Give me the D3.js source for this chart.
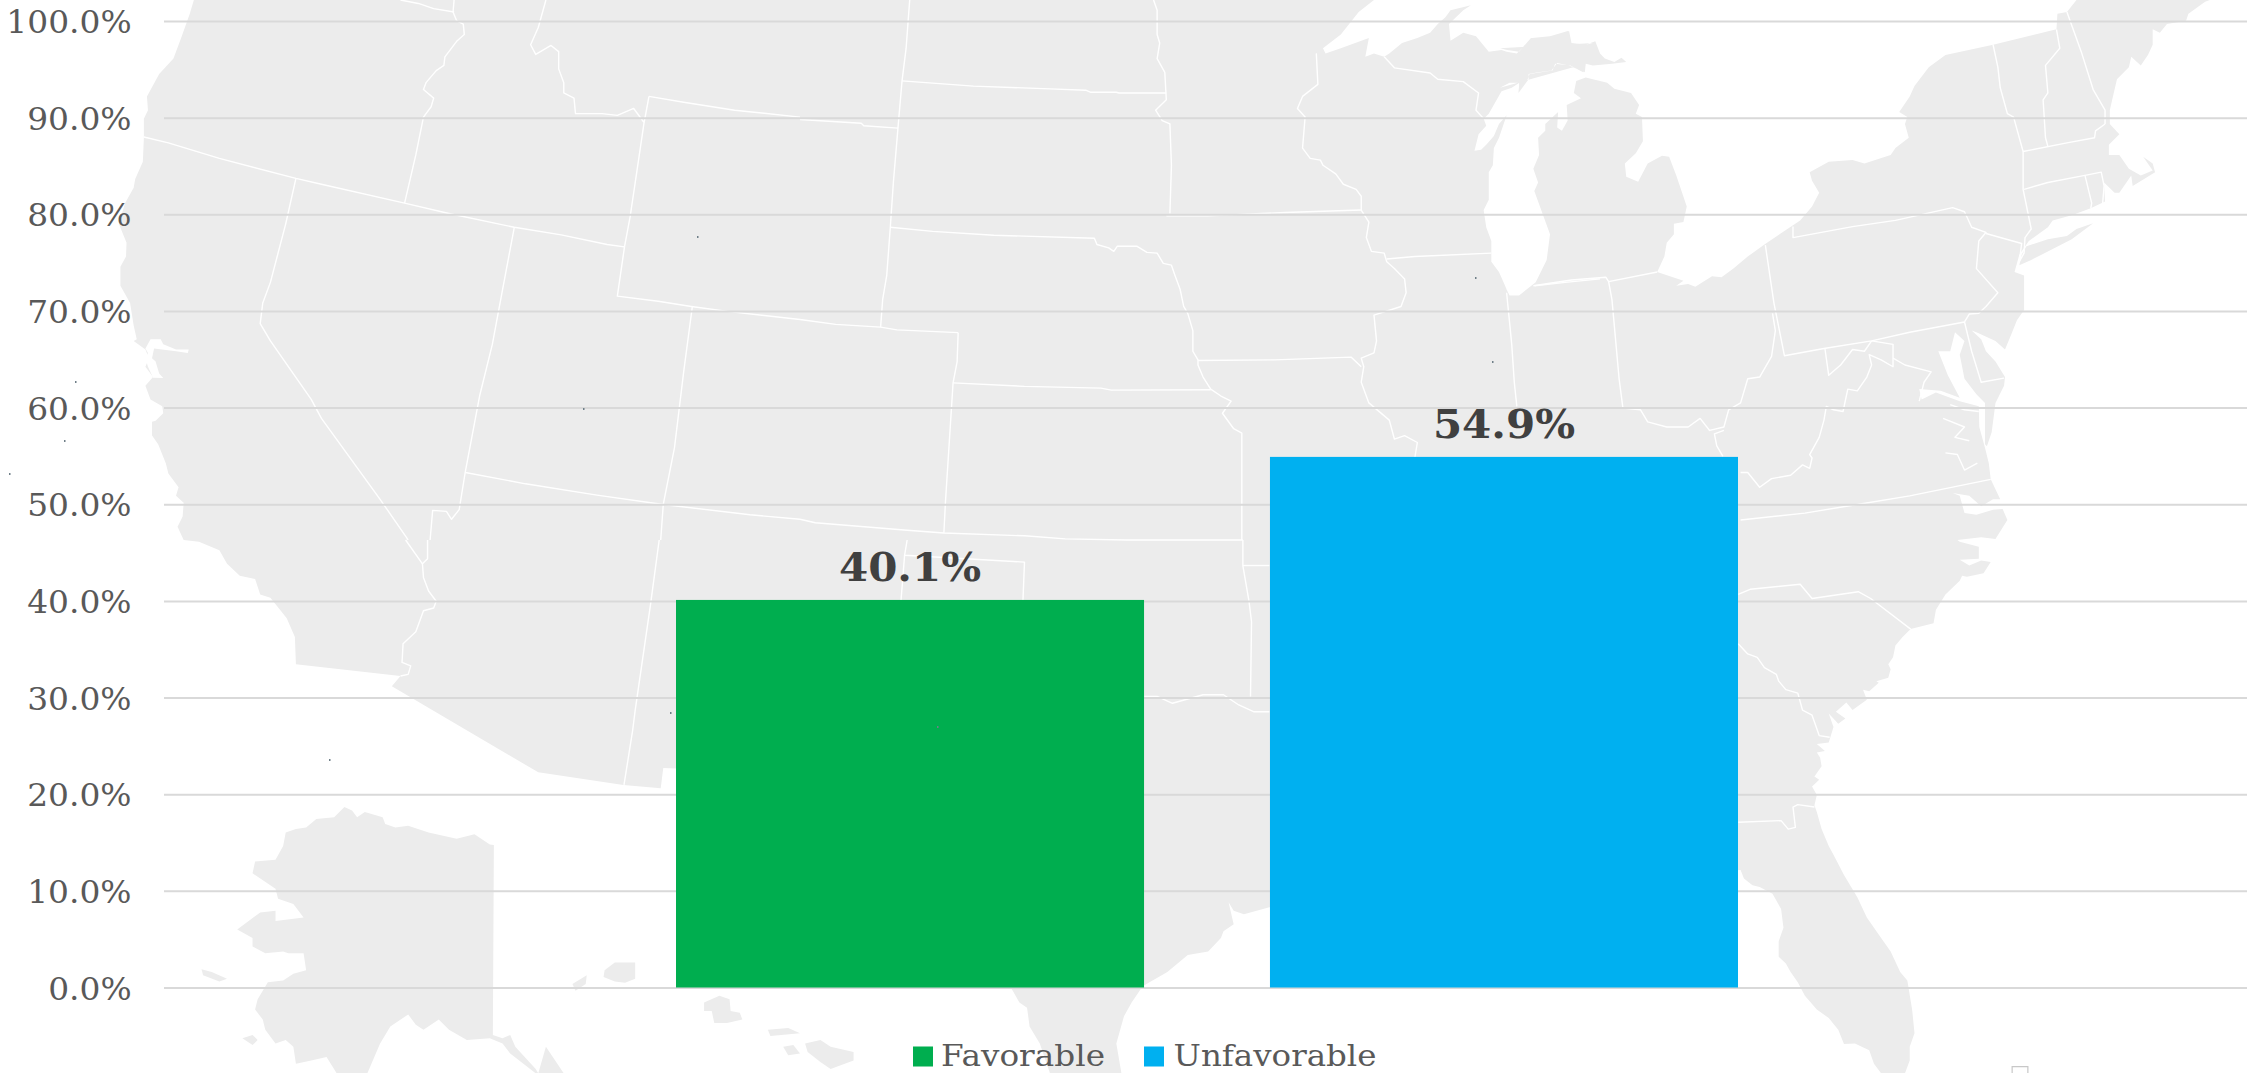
<!DOCTYPE html>
<html><head><meta charset="utf-8">
<script src="https://cdn.jsdelivr.net/npm/d3@7/dist/d3.min.js"></script>
<style>html,body{margin:0;padding:0;background:#fff}svg{display:block}</style>
</head><body><svg id="c" width="2247" height="1073"></svg>
<script>
const categories = ["Favorable", "Unfavorable"];
const seriesValues = [40.1, 54.9];
const seriesColors = ["#00AE4F", "#00B0F0"];
const tickValues = [0,10,20,30,40,50,60,70,80,90,100];

// Decorative base map, traced as [frame, "x,y x,y ..."] runs.
const frames = {
  A:[0,0,1/1.96,1/2.904], B:[800,0,1/1.96,1/2.904], C:[1500,0,1/2.099,1/2.904],
  D:[0,540,1/1.96,1/2.94], E:[800,540,1/1.96,1/2.94], F:[1500,540,1/2.099,1/2.94]
};
const mainland = [
 ["A","380,0 372,40 355,110 340,170 312,215 288,280 290,320 282,345 282,400 280,470 265,520 262,545 245,590 233,650 248,705 247,745 236,775 236,830 255,880 262,945 268,985 262,990 285,1015 292,1040 285,1065 300,1095 285,1120 295,1160 318,1180 320,1200 305,1222 298,1225 298,1265 310,1290 325,1345 330,1375 350,1415 345,1440 360,1460 358,1500 348,1530 360,1568"],
 ["D","390,5 430,30 445,70 470,105 500,115 510,160 530,170 562,230 578,285 580,365 785,400 768,430 1055,683 1222,720 1295,730 1300,670 1325,672"],
 ["E","415,1320 430,1360 445,1375 450,1430 470,1480 490,1568 630,1568 620,1480 635,1400 650,1360 668,1320 674,1310 720,1270 760,1220 800,1210 825,1170 830,1150 850,1130 840,1065 850,1090 870,1100 920,1080"],
 ["F","505,970 512,995 530,1015 545,1020 572,1040 590,1085 595,1140 585,1180 585,1225 600,1245 610,1270 625,1300 640,1340 665,1380 690,1405 710,1440 722,1482 745,1480 775,1500 785,1540 800,1568 850,1568 860,1530 860,1490 870,1450 865,1380 855,1295 840,1270 820,1210 800,1170 770,1110 750,1050 722,985 700,925 690,900 675,850 665,800 660,780 665,750 655,725 670,705 660,695 675,665 672,640 665,625 682,620 665,600 690,595 700,550 690,510 710,540 725,525 705,505 727,478 740,500 770,470 762,440 775,445 795,420 790,415 815,405 820,380 815,365 825,345 830,310 845,285 862,262 910,245 915,205 935,160 965,120 970,105 980,108 1015,98 1030,65 1010,60 985,75 965,58 1005,55 1005,20 965,5 960,0"],
 ["C","1010,1560 1040,1565 1065,1510 1055,1478 1035,1480 1000,1495 975,1490 965,1440 950,1432 985,1440 1010,1470 1035,1450 1050,1450 1030,1392 1026,1345 1018,1300 1006,1240 1005,1180 965,1165 915,1140 885,1160 880,1130 925,1135 965,1155 940,1090 920,1020 945,1020 955,965 975,990 965,1030 975,1100 1000,1145 1018,1170 1018,1290 1022,1296 1032,1255 1040,1170 1058,1120 1060,1095 1040,1050 1020,1020 1010,985 990,960 1000,965 1040,990 1060,1015 1075,965 1085,930 1100,900 1100,800 1080,790 1090,740 1110,700 1150,660 1160,640 1200,625 1240,605 1270,585 1268,530 1290,560 1300,560 1325,510 1328,540 1375,500 1370,475 1350,455 1370,495 1345,510 1320,490 1300,450 1278,450 1278,420 1300,390 1280,360 1280,320 1285,290 1295,230 1320,195 1325,165 1345,190 1360,160 1370,130 1370,85 1385,95 1400,70 1440,60 1445,40 1480,5 1490,0 1210,0 1190,35 1170,40 1168,85 1035,130 935,160 900,195 870,250 860,280 838,325 855,340 850,360 858,400 830,430 820,450 765,475 740,465 690,470 650,500 655,525 670,560 655,600 630,640 555,710 520,745 490,780 465,805 445,802 410,833 395,825 370,830 385,815 330,790 345,745 350,705 365,680 365,650 385,645 392,600 370,510 355,455 340,452 310,475 290,528 265,513 262,475 285,445 300,410 298,340 285,330 292,305 275,270 240,258 225,240 180,225 160,235 155,270 170,285 140,305 142,350 130,380 120,370 122,325 95,360 95,380 80,400 82,450 70,490 80,530 72,555 105,680 98,755 75,820 40,858 20,858 10,830"],
 ["B","1385,840 1370,790 1355,760 1355,700 1345,660 1340,610 1350,580 1350,500 1358,480 1360,430 1370,400 1385,335 1370,360 1360,395 1345,420 1335,435 1322,438 1330,390 1345,365 1340,345 1350,330 1375,265 1395,255 1410,240 1408,270 1425,235 1430,215 1475,205 1480,185 1510,190 1535,210 1540,185"],
 ["C","0,255 20,240 40,240 40,268 60,230 60,215 80,210 108,205 120,183 145,190 178,210 180,185 195,190 235,185 265,180 255,168 240,180 220,170 210,155 200,120 180,130 150,125 145,90 115,105 80,110 65,110 40,150 15,145 0,140"],
 ["B","1555,125 1540,130 1510,125 1505,90 1470,105 1435,110 1405,155 1385,150 1375,145 1350,150 1325,105 1300,95 1275,118 1272,70 1300,30 1315,15 1275,30 1265,50 1250,70 1235,95 1210,110 1180,125 1155,155 1145,165 1125,155 1108,165 1115,110 1060,140 1030,155 1025,140 1060,100 1095,35 1125,0"]
];
const otherLand = [
 [["D","675,785 690,795 700,815 715,800 750,815 755,835 775,845 800,840 840,860 895,878 930,865 960,895 968,897 966,1455 985,1465 1000,1455 1010,1490 1050,1555 1055,1568 1070,1490 1105,1568 1050,1568 1000,1510 985,1480 960,1465 915,1470 880,1440 860,1410 830,1440 815,1425 800,1395 765,1430 745,1480 720,1568 660,1568 640,1520 610,1530 580,1540 575,1490 560,1470 540,1480 520,1440 515,1410 500,1380 505,1350 525,1300 555,1295 575,1275 600,1265 595,1215 565,1215 555,1210 520,1215 495,1195 495,1170 465,1145 510,1095 540,1090 540,1120 595,1110 575,1070 545,1055 540,1025 495,980 500,945 540,940 555,900 560,860 580,850 600,845 620,820 655,815"]],
 [["D","475,1465 495,1455 505,1470 495,1485"]],
 [["D","395,1262 415,1270 445,1290 430,1298 398,1280"]],
 [["D","1122,1305 1150,1280 1148,1305 1128,1325"]],
 [["D","1185,1265 1205,1242 1245,1242 1245,1290 1225,1302 1205,1298 1183,1285"]],
 [["D","1380,1360 1410,1340 1430,1350 1432,1385 1450,1390 1455,1410 1425,1420 1400,1420 1395,1385 1380,1385"]],
 [["D","1505,1440 1545,1435 1568,1450 1510,1458"]],
 [["D","1535,1490 1555,1485 1568,1510 1545,1515"]],
 [["E","10,1480 40,1470 60,1490 105,1505 105,1530 60,1555 40,1535 15,1505"]],
 [["C","1090,770 1115,755 1200,695 1245,648 1210,665 1190,685 1150,695 1105,715 1095,740"]]
];
const waterBits = [
 [["A","285,1012 295,985 315,985 320,1000 345,1015 370,1015 368,1025 345,1020 302,1012 298,1040 305,1050 312,1085 320,1098 300,1097 290,1065 285,1040 290,1025"]]
];
const stateLines = [
 ["A","785,0 820,10 850,25 890,35"],
 ["A","890,0 888,35 895,60 908,70 910,100 895,120 872,165 870,190 855,205 835,240 830,260 850,285 845,310 830,340 815,450 793,590"],
 ["A","282,398 330,415 430,460 580,518 630,535 793,590 880,620 1008,660 1100,682 1190,710 1224,717"],
 ["A","580,518 560,650 530,820 515,880 510,940 530,990 610,1160 630,1215 745,1450 800,1568"],
 ["D","795,0 828,70"],
 ["A","1008,660 975,920 965,1000 940,1150 912,1370 900,1480 885,1508 875,1485 848,1482 843,1568"],
 ["D","838,0 838,55 828,70 830,110 840,150 855,180 850,200 830,208 815,270 790,305 788,360 805,370 800,395 785,400"],
 ["A","912,1372 1030,1405 1170,1438 1300,1465 1470,1495 1568,1508"],
 ["B","0,1508 30,1518 210,1540 282,1548 440,1556 520,1565 640,1568 868,1568"],
 ["A","1224,717 1210,860 1290,875 1355,890 1430,905 1568,928"],
 ["B","0,928 70,942 158,950 190,958 310,966"],
 ["A","1272,280 1262,360 1250,480 1235,630 1224,717"],
 ["A","1070,0 1055,80 1040,130 1050,158 1080,132 1095,150 1095,200 1105,240 1105,270 1125,285 1128,330 1180,330 1210,335 1242,315 1262,355"],
 ["A","1272,280 1340,297 1440,320 1568,340"],
 ["B","0,347 120,358 125,365 192,372"],
 ["A","1357,890 1340,1080 1322,1300 1300,1465 1295,1568"],
 ["D","1292,0 1275,190 1245,500 1240,560 1223,720"],
 ["B","215,0 208,140 200,235 192,372 183,530 177,660 170,800 162,870 158,950"],
 ["B","200,235 340,250 490,258 560,262 570,268 620,268 625,270 718,270"],
 ["B","693,0 700,30 700,100 705,125 700,170 715,210 718,290 697,320 710,350 725,360 728,480 725,620"],
 ["B","177,660 260,672 380,683 577,692 582,710 605,720 615,730 622,715 660,715 680,733 700,735 712,765 728,770 735,800 745,840 752,890 760,910 770,960 770,1020 780,1045 780,1060 790,1095 805,1130 825,1150 845,1165 828,1200 850,1245 866,1258 866,1568"],
 ["E","868,0 868,75 880,180 885,240 883,460"],
 ["E","868,75 920,75"],
 ["B","718,627 800,627 950,617 1100,610"],
 ["B","1012,155 1015,245 985,280 975,315 990,340 985,430 1000,460 1020,465 1025,480 1050,505 1065,535 1090,550 1100,570 1100,610 1115,645 1110,690 1120,730 1145,735 1150,760 1165,780 1185,810 1188,850 1178,890 1125,915 1130,990 1125,1025 1100,1040 1105,1065 1100,1110 1115,1170 1155,1220 1165,1275 1185,1265 1210,1285 1205,1330"],
 ["B","1145,165 1165,197 1235,212 1250,230 1300,237 1330,270 1325,320 1340,345"],
 ["B","1150,752 1205,745 1355,735"],
 ["B","780,1047 930,1045 1080,1037 1100,1065"],
 ["B","300,1112 440,1122 590,1127 610,1133 805,1132"],
 ["B","310,966 308,1050 300,1112 285,1460 282,1548"],
 ["B","1385,850 1395,1000 1400,1110 1405,1180"],
 ["B","1440,830 1500,820 1568,810"],
 ["C","70,830 150,813 222,805 228,818 330,790"],
 ["C","228,818 235,870 250,1100 258,1185 295,1190 310,1225 350,1240 395,1240 420,1215 440,1250 470,1240 480,1190 505,1170 520,1100 545,1095 570,1035 578,960 572,910"],
 ["C","470,1250 450,1260 455,1295 468,1325"],
 ["C","557,712 575,880 597,1033 680,1012 780,990 860,965 975,935"],
 ["C","615,658 615,690 740,658 830,640 950,603 975,615 990,660 1020,675 1005,700 1000,780 1045,850 1020,890 1005,910 985,912 975,935"],
 ["C","1020,678 1095,707 1090,760"],
 ["C","505,1372 520,1372 545,1415 570,1390 610,1380 635,1350 650,1360 655,1330 650,1320 670,1270 680,1220 685,1180 700,1190 720,1195 730,1130 750,1135 770,1095 780,1060 775,1030 800,1045 825,1065 825,1000 780,990"],
 ["C","682,1012 690,1090 715,1060 740,1015 765,1020 780,990"],
 ["C","825,1040 850,1060 905,1080 890,1110 880,1165"],
 ["C","975,935 990,1020 1010,1110 1058,1098"],
 ["C","505,1510 640,1490 750,1465 860,1440 1030,1392"],
 ["C","1035,130 1045,195 1050,255 1065,330 1078,340 1098,440 1098,550 1115,665 1102,690 1100,735 1090,760"],
 ["C","1168,85 1175,140 1145,190 1150,270 1140,290 1145,400 1150,425"],
 ["C","1098,440 1190,415 1248,400 1250,380 1270,360"],
 ["C","1190,35 1220,150 1245,260 1270,320 1270,360"],
 ["C","1100,550 1150,530 1225,510 1262,500 1268,540 1265,590"],
 ["C","1228,510 1242,590 1240,605"],
 ["C","1002,1345 975,1365 960,1320 935,1315"],
 ["C","985,1280 955,1270 975,1240 930,1215"],
 ["C","945,1175 975,1190 1005,1195"],
 ["F","500,160 525,145 630,130 655,172 752,152 778,172 862,262"],
 ["F","500,305 520,335 540,345 555,375 580,395 585,415 600,440 625,450 635,500 655,515 670,575 692,580"],
 ["F","500,830 590,825 605,850 620,845 615,785 625,778 660,785"],
 ["E","675,460 700,460 730,480 790,455 830,455 860,485 890,505 920,505"],
 ["E","210,0 205,45 440,65 437,177"],
 ["E","205,45 198,177"]
];
const specks = [[697,236],[583,408],[75,381],[64,440],[9,473],[329,759],[670,712],[1475,277],[1492,361],[937,726]];
const edgeMark = ["F","1075,1568 1075,1548 1108,1548 1108,1568"];

const toPts = ([f, s]) => s.split(" ").map(p => {
  const [x, y] = p.split(",").map(Number), t = frames[f];
  return [t[0] + x * t[2], t[1] + y * t[3]];
});
const svg = d3.select("#c");
const line = d3.line();
const W = 2247;

// base map
const map = svg.append("g");
map.selectAll("path.land").data([mainland, ...otherLand]).join("path")
  .attr("class","land").attr("fill","#ececec")
  .attr("d", runs => line(runs.flatMap(toPts)) + "Z");
map.selectAll("path.water").data(waterBits).join("path")
  .attr("class","water").attr("fill","#fff")
  .attr("d", runs => line(runs.flatMap(toPts)) + "Z");
map.selectAll("path.state").data(stateLines).join("path")
  .attr("class","state").attr("fill","none").attr("stroke","#fff")
  .attr("stroke-width",1.4).attr("stroke-linejoin","round")
  .attr("d", r => line(toPts(r)));
map.append("path").attr("d", line(toPts(edgeMark))).attr("fill","none").attr("stroke","#c8c8c8").attr("stroke-width",1.2);

// scales
const y = d3.scaleLinear().domain([0,100]).range([987.5,21]);
const x = d3.scaleBand().domain(categories).range([676,1738]).paddingInner(0.212);
const color = d3.scaleOrdinal().domain(categories).range(seriesColors);

// axis + grid
const gridLeft = 164;
const axis = svg.append("g").attr("transform",`translate(${gridLeft},0)`)
  .call(d3.axisLeft(y).tickValues(tickValues).tickSize(-(W-gridLeft)).tickFormat(d => d.toFixed(1) + "%"));
axis.select(".domain").remove();
axis.selectAll(".tick line").attr("stroke","#d9d9d9").attr("stroke-width",2);
axis.selectAll(".tick text")
  .attr("x",0).attr("dy",null).attr("y",0)
  .attr("text-anchor","end")
  .attr("transform","translate(-32.4,11.5) scale(1.06,1)")
  .attr("font-family","'DejaVu Serif'").attr("font-size",31).attr("fill","#595959");

// bars
svg.selectAll("rect.bar").data(categories).join("rect").attr("class","bar")
  .attr("x", d => x(d)).attr("width", x.bandwidth())
  .attr("y", (d,i) => y(seriesValues[i]))
  .attr("height", (d,i) => y(0) - y(seriesValues[i]))
  .attr("fill", d => color(d));

// value labels
svg.selectAll("text.val").data(categories).join("text").attr("class","val")
  .attr("text-anchor","middle")
  .attr("transform",(d,i) => `translate(${x(d)+x.bandwidth()/2},${y(seriesValues[i])-19}) scale(1.05,1)`)
  .attr("font-family","'DejaVu Serif'").attr("font-weight",700).attr("font-size",40).attr("fill","#404040")
  .text((d,i) => seriesValues[i].toFixed(1) + "%");

// specks
svg.selectAll("rect.speck").data(specks).join("rect").attr("class","speck")
  .attr("x",d=>d[0]).attr("y",d=>d[1]).attr("width",1.5).attr("height",2).attr("fill","#6f7f88");

// legend
const legendLayout = [{sx:913,tx:941,tw:164},{sx:1144,tx:1173.5,tw:203}];
const lg = svg.selectAll("g.lg").data(categories).join("g").attr("class","lg");
lg.append("rect").attr("x",(d,i)=>legendLayout[i].sx).attr("y",1046.5).attr("width",20).attr("height",20)
  .attr("fill",d=>color(d));
lg.append("text").attr("x",(d,i)=>legendLayout[i].tx).attr("y",1066)
  .attr("textLength",(d,i)=>legendLayout[i].tw).attr("lengthAdjust","spacingAndGlyphs")
  .attr("font-family","'DejaVu Serif'").attr("font-size",30).attr("fill","#595959")
  .text(d=>d);
</script></body></html>
